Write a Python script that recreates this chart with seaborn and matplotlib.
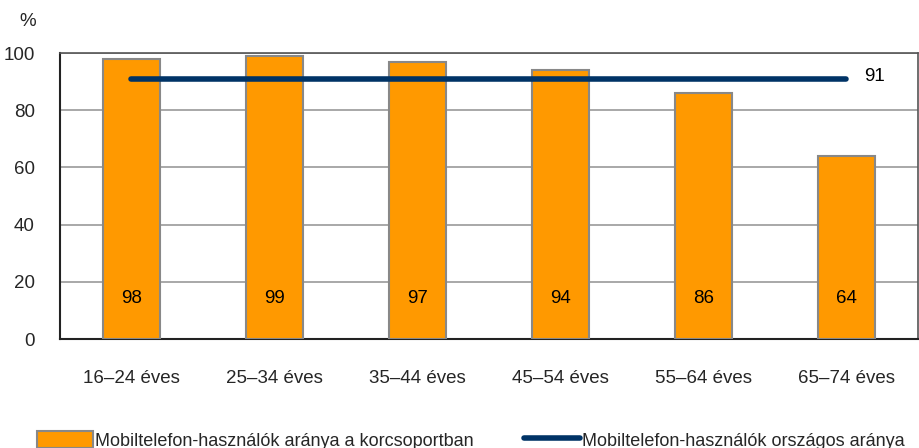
import matplotlib
matplotlib.use("Agg")
import matplotlib.pyplot as plt
import seaborn as sns
import pandas as pd
from matplotlib.patches import Patch
from matplotlib.lines import Line2D

categories = ["16–24 éves", "25–34 éves", "35–44 éves", "45–54 éves", "55–64 éves", "65–74 éves"]
group_rates = [98, 99, 97, 94, 86, 64]
national_rate = 91
bar_label = "Mobiltelefon-használók aránya a korcsoportban"
line_label = "Mobiltelefon-használók országos aránya"
y_ticks = [0, 20, 40, 60, 80, 100]

sns.set_theme(style="white")
plt.rcParams['font.family'] = ['Liberation Sans', 'DejaVu Sans']

df = pd.DataFrame({"cat": categories, "val": group_rates})

fig = plt.figure(figsize=(9.2, 4.48), dpi=100)
ax = fig.add_axes([60/920, 1-339/448, 858/920, (339-53)/448])

sns.barplot(data=df, x="cat", y="val", color="#FF9900", width=0.4,
            edgecolor="#888888", linewidth=1.5, saturation=1, ax=ax, zorder=3)

ax.plot([0, len(categories)-1], [national_rate, national_rate], color="#003366",
        linewidth=4, solid_capstyle="round", zorder=4)
ax.text(len(categories)-1 + 0.12, national_rate + 0.8, str(national_rate),
        fontsize=13.5, va="center", ha="left", color="black")

for i, v in enumerate(group_rates):
    ax.text(i, 14, str(v), ha="center", va="center", fontsize=13.5, color="black", zorder=5)

ax.set_xlim(-0.5, len(categories)-0.5)
ax.set_ylim(0, 100)
ax.set_yticks(y_ticks)
ax.set_yticklabels([str(t) for t in y_ticks], fontsize=13.5)
ax.yaxis.grid(True, color="#999999", linewidth=1.2, zorder=0)
ax.set_axisbelow(True)
ax.set_xlabel("")
ax.set_ylabel("")
ax.tick_params(axis="x", which="major", length=0, labelsize=13.5, pad=22)
ax.set_xticks([i - 0.5 for i in range(len(categories)+1)], minor=True)
ax.tick_params(axis="x", which="minor", direction="inout", length=14, width=1.2, color="#333333")
ax.tick_params(axis="y", direction="inout", length=14, width=1.2, color="#333333", pad=11)

for s in ["left", "bottom"]:
    ax.spines[s].set_color("#222222")
    ax.spines[s].set_linewidth(1.5)
for s in ["top", "right"]:
    ax.spines[s].set_color("#555555")
    ax.spines[s].set_linewidth(1.2)
    ax.spines[s].set_visible(True)

fig.text(28/920, 1-22/448, "%", fontsize=13.5, ha="center", va="center")

handles = [Patch(facecolor="#FF9900", edgecolor="#888888", linewidth=1.5),
           Line2D([0], [0], color="#003366", linewidth=4, solid_capstyle="round")]
fig.legend(handles, [bar_label, line_label], loc="upper left",
           bbox_to_anchor=(37/920, 1-431/448), ncol=2, frameon=False,
           fontsize=13, handlelength=3.1, handleheight=1.1, handletextpad=0.1,
           columnspacing=2.8, borderaxespad=0, borderpad=0)

fig.savefig("out.png", dpi=100)
